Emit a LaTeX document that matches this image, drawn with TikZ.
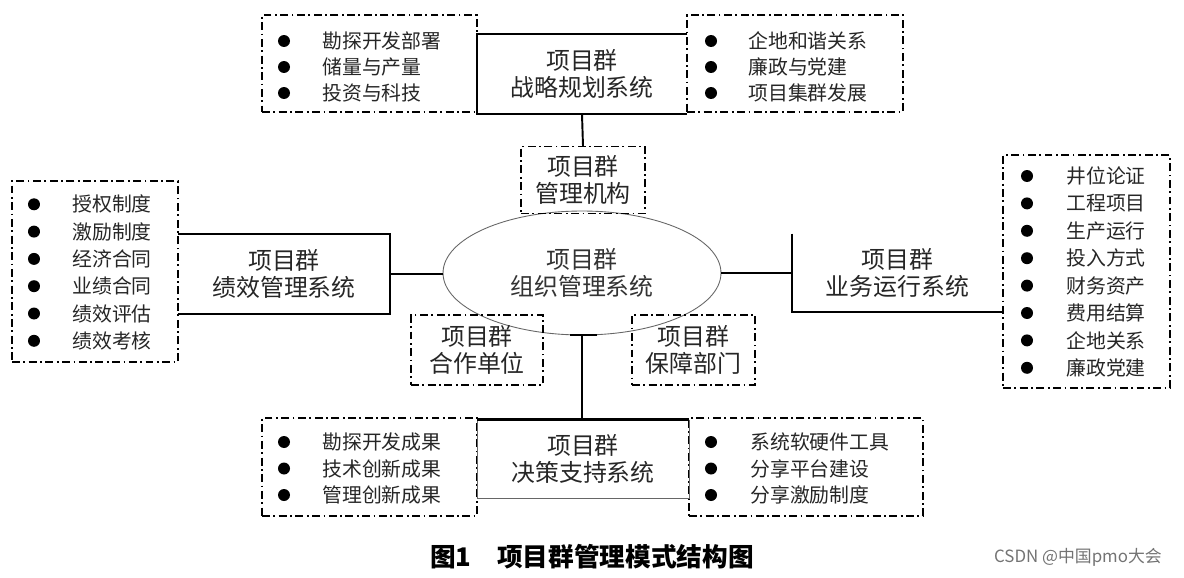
\documentclass[tikz,border=0pt]{standalone}
\usepackage{fontspec}
\setmainfont{Noto Sans CJK SC}
\usepackage{tikz}
\usetikzlibrary{shapes.geometric}

\newcommand{\syslabel}{\fontsize{13.6}{15}\selectfont}
\newcommand{\itemlabel}{\fontsize{11.3}{13}\selectfont}
\newcommand{\captionlabel}{\fontsize{14.6}{16}\selectfont\bfseries}

\tikzset{
  dotdash/.style={line width=0.8pt, dash pattern=on 4.5pt off 2pt on 1pt off 2pt},
  sysbox/.style={inner sep=0pt, align=center, font=\syslabel, text=black!85},
  listbox/.style={dotdash, draw, inner sep=0pt},
  itemtext/.style={anchor=west, inner sep=0pt, font=\itemlabel, text=black!85},
  bullet/.style={fill=black},
}

\begin{document}
\begin{tikzpicture}[x=0.02cm, y=-0.02cm]
  \useasboundingbox (0,0) rectangle (1184,578);

  % list boxes
  \node[listbox, minimum width=4.3cm, minimum height=1.94cm] (zlL) at (369.5,63.5) {};
  \node[listbox, minimum width=4.32cm, minimum height=1.94cm] (zlR) at (795,63.5) {};
  \node[listbox, minimum width=3.32cm, minimum height=3.62cm] (jxL) at (95,271.5) {};
  \node[listbox, minimum width=3.34cm, minimum height=4.66cm] (ywR) at (1086.5,271.5) {};
  \node[listbox, minimum width=4.3cm, minimum height=1.96cm] (jcL) at (369.5,467) {};
  \node[listbox, minimum width=4.68cm, minimum height=1.96cm] (jcR) at (806,467) {};

  % system boxes
  \node[sysbox, minimum width=4.2cm, minimum height=1.6cm] (zl) at (582,74) {项目群\\战略规划系统};
  \draw[line width=1.1pt] (zl.north east) -- (zl.north west) -- (zl.south west) -- (zl.south east);
  \node[sysbox, minimum width=4.24cm, minimum height=1.58cm] (jx) at (284,274) {项目群\\绩效管理系统};
  \draw[line width=1.1pt] (jx.north west) -- (jx.north east) -- (jx.south east) -- (jx.south west);
  \node[sysbox, minimum width=4.22cm, minimum height=1.56cm] (yw) at (897.5,273) {项目群\\业务运行系统};
  \draw[line width=1.1pt] (yw.north west) -- (yw.south west) -- (yw.south east);
  \node[sysbox, draw=black!60, line width=0.5pt, minimum width=4.24cm, minimum height=1.56cm] (jc) at (583,459) {项目群\\决策支持系统};
  \draw[line width=1.4pt] (jc.north west) -- (jc.north east);

  % centre
  \node[ellipse, draw=black!60, line width=0.5pt, inner sep=0pt, align=center, font=\syslabel, text=black!80,
        minimum width=5.56cm, minimum height=2.48cm] (org) at (582,273) {项目群\\组织管理系统};
  \node[listbox, sysbox, minimum width=2.48cm, minimum height=1.34cm] (jg) at (583,180) {项目群\\管理机构};
  \node[listbox, sysbox, minimum width=2.64cm, minimum height=1.4cm] (hz) at (477,350) {项目群\\合作单位};
  \node[listbox, sysbox, minimum width=2.46cm, minimum height=1.4cm] (bz) at (693.5,350) {项目群\\保障部门};

  % connectors
  \draw[line width=1.1pt] (zl.south) -- (jg.north);
  \draw[line width=1.3pt] (jx.east) -- (jx.east -| org.west);
  \draw[line width=1pt] (org.east) -- (org.east -| yw.west);
  \draw[line width=1.1pt] ([xshift=-0.24cm]org.south) -- ([xshift=0.3cm]org.south);
  \draw[line width=1.1pt] (org.south) -- (org.south |- jc.north);

  % items
  \foreach \t [count=\i] in {勘探开发部署,储量与产量,投资与科技} {
    \fill[bullet] (284,15+26*\i) circle (0.12cm);
    \node[itemtext] (zlL-\i) at (322,15+26*\i) {\t};
  }
  \foreach \t [count=\i] in {企地和谐关系,廉政与党建,项目集群发展} {
    \fill[bullet] (711,15+26*\i) circle (0.12cm);
    \node[itemtext] (zlR-\i) at (748,15+26*\i) {\t};
  }
  \foreach \t [count=\i] in {授权制度,激励制度,经济合同,业绩合同,绩效评估,绩效考核} {
    \fill[bullet] (34,177+27.3*\i) circle (0.12cm);
    \node[itemtext] (jxL-\i) at (72,177+27.3*\i) {\t};
  }
  \foreach \t [count=\i] in {井位论证,工程项目,生产运行,投入方式,财务资产,费用结算,企地关系,廉政党建} {
    \fill[bullet] (1027,148.6+27.4*\i) circle (0.12cm);
    \node[itemtext] (ywR-\i) at (1066,148.6+27.4*\i) {\t};
  }
  \foreach \t [count=\i] in {勘探开发成果,技术创新成果,管理创新成果} {
    \fill[bullet] (284,415.5+26.5*\i) circle (0.12cm);
    \node[itemtext] (jcL-\i) at (322,415.5+26.5*\i) {\t};
  }
  \foreach \t [count=\i] in {系统软硬件工具,分享平台建设,分享激励制度} {
    \fill[bullet] (711,415.5+26.5*\i) circle (0.12cm);
    \node[itemtext] (jcR-\i) at (750,415.5+26.5*\i) {\t};
  }

  % caption
  \node[font=\captionlabel] (cap) at (592,557) {图1\quad 项目群管理模式结构图};
  \node[anchor=east, text=black!55, font=\fontsize{9.6}{11}\selectfont] (mark) at (1168,557) {CSDN @中国pmo大会};
\end{tikzpicture}
\end{document}
